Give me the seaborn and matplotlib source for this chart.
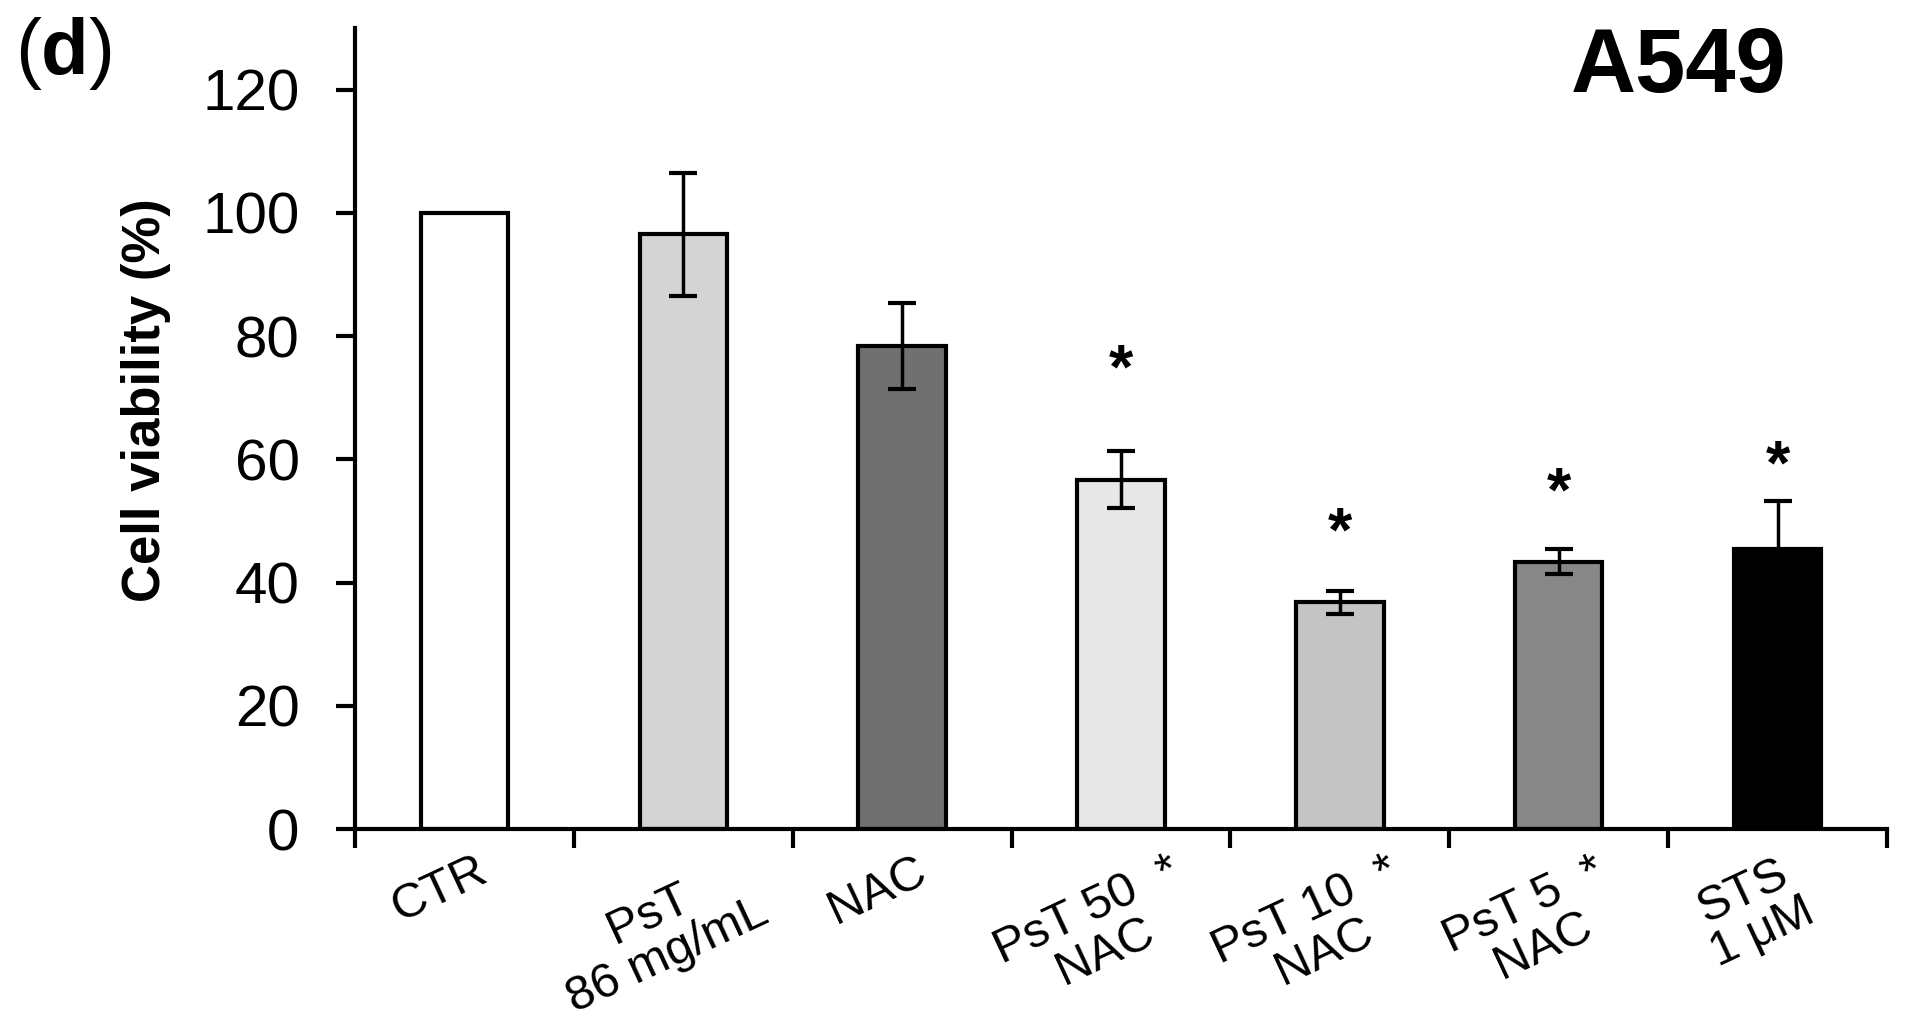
import numpy as np
import pandas as pd
import matplotlib
matplotlib.use("Agg")
import matplotlib.pyplot as plt
import matplotlib.transforms as mtransforms
import seaborn as sns

# Data (A549, cell viability %)
groups = ["CTR", "PsT\n86 mg/mL", "NAC", "PsT 50  *\nNAC", "PsT 10  *\nNAC",
          "PsT 5  *\nNAC", "STS\n1 \u03bcM"]
viability = [100.0, 96.5, 78.4, 56.7, 36.8, 43.4, 45.4]
sem = [0.0, 10.0, 7.0, 4.6, 1.9, 2.0, 7.9]
significant = [False, False, False, True, True, True, True]
star_y = [0, 0, 0, 75.4, 49.0, 55.4, 59.8]
bar_colors = ["#ffffff", "#d4d4d4", "#707070", "#e8e8e8", "#c4c4c4", "#878787", "#000000"]

df = pd.DataFrame({"group": groups, "viability": viability})

sns.set_theme(style="ticks", rc={
    "text.color": "black", "axes.labelcolor": "black", "axes.edgecolor": "black",
    "xtick.color": "black", "ytick.color": "black",
})
plt.rcParams["font.family"] = ["Liberation Sans", "DejaVu Sans"]
plt.rcParams["mathtext.fontset"] = "custom"
plt.rcParams["mathtext.rm"] = "Liberation Sans"
plt.rcParams["mathtext.bf"] = "Liberation Sans:bold"

fig = plt.figure(figsize=(19.11, 10.24), dpi=100)
ax = fig.add_axes([0.1858, 0.1904, 0.9874 - 0.1858, 0.9727 - 0.1904])

sns.barplot(data=df, x="group", y="viability", hue="group", palette=bar_colors,
            legend=False, width=0.4, edgecolor="black", linewidth=3,
            errorbar=None, ax=ax)

# error bars and significance stars
for i, bar in enumerate(ax.patches):
    cx = bar.get_x() + bar.get_width() / 2
    top = bar.get_height()
    if sem[i] > 0:
        ax.errorbar(cx, top, yerr=sem[i], fmt="none", ecolor="black",
                    elinewidth=2.5, capsize=10, capthick=3, zorder=5)
    if significant[i]:
        ax.text(cx, star_y[i], "*", ha="center", va="center_baseline", fontsize=45,
                fontweight="bold")

ax.set_xlim(-0.5, len(groups) - 0.5)
ax.set_ylim(0, 130)
ax.set_yticks(np.arange(0, 121, 20))
ax.tick_params(axis="y", labelsize=42, length=14, width=3, direction="out", pad=26)

# category labels at centres, tick marks at the boundaries (Excel style)
ax.set_xticks(range(len(groups)))
ax.set_xticklabels(groups, rotation=25, ha="center", va="top", fontsize=35,
                   multialignment="center", linespacing=1.0)
ax.tick_params(axis="x", length=0, pad=14)
ax.set_xticks(np.arange(-0.5, len(groups), 1), minor=True)
ax.tick_params(axis="x", which="minor", length=14, width=3, direction="out")
shift = mtransforms.ScaledTranslation(-0.25, 0, fig.dpi_scale_trans)
for lbl in ax.get_xticklabels():
    lbl.set_transform(lbl.get_transform() + shift)

ax.set_xlabel("")
ax.set_ylabel("Cell viability (%)", fontsize=38, fontweight="bold")
ax.yaxis.set_label_coords(-0.12, 0.536)

sns.despine(ax=ax)
ax.spines["left"].set_linewidth(3)
ax.spines["bottom"].set_linewidth(3)

fig.text(0.008, 0.985, r"($\mathbf{d}$)", fontsize=56, va="top", ha="left")
fig.text(0.935, 0.975, "A549", fontsize=65, fontweight="bold", va="top", ha="right")

fig.savefig("out.png", dpi=100)
